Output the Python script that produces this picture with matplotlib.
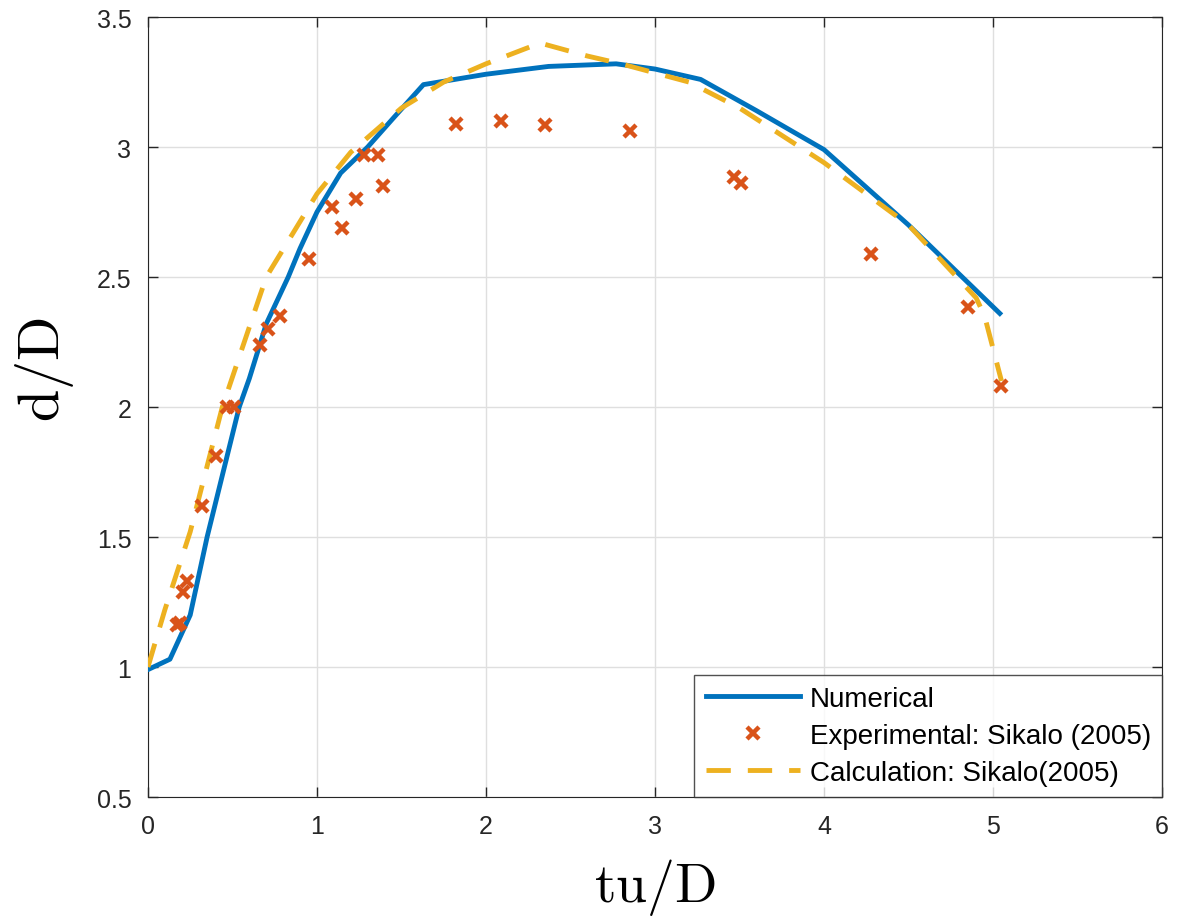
import matplotlib
matplotlib.use("Agg")
import matplotlib.pyplot as plt

plt.rcParams['font.family'] = ['Liberation Sans', 'DejaVu Sans']
plt.rcParams['mathtext.fontset'] = 'cm'

# numerical result
num_x = [0, 0.13, 0.25, 0.35, 0.54, 0.6, 0.7, 0.83, 0.9, 1.0, 1.14, 1.3, 1.45,
         1.63, 2.0, 2.37, 2.77, 3.0, 3.27, 3.6, 4.0, 4.5, 5.04]
num_y = [0.99, 1.03, 1.2, 1.5, 2.0, 2.11, 2.32, 2.5, 2.61, 2.75, 2.9, 3.0, 3.11,
         3.24, 3.28, 3.31, 3.32, 3.3, 3.26, 3.14, 2.99, 2.7, 2.36]

# experimental points, Sikalo (2005)
exp_x = [0.17, 0.19, 0.21, 0.23, 0.32, 0.40, 0.47, 0.51, 0.66, 0.71, 0.78, 0.95,
         1.09, 1.15, 1.23, 1.28, 1.36, 1.39, 1.82, 2.09, 2.35, 2.85, 3.47, 3.51,
         4.28, 4.85, 5.05]
exp_y = [1.16, 1.17, 1.29, 1.33, 1.62, 1.81, 2.0, 2.0, 2.24, 2.30, 2.35, 2.57,
         2.77, 2.69, 2.80, 2.97, 2.97, 2.85, 3.09, 3.10, 3.085, 3.06, 2.885, 2.86,
         2.59, 2.385, 2.08]

# calculation, Sikalo (2005)
calc_x = [0, 0.1, 0.25, 0.44, 0.7, 1.0, 1.2, 1.5, 1.75, 2.0, 2.32, 2.6, 2.8,
          3.2, 3.5, 4.0, 4.5, 4.9, 4.95, 5.05]
calc_y = [1.0, 1.22, 1.52, 2.0, 2.5, 2.82, 2.98, 3.15, 3.25, 3.32, 3.40, 3.35, 3.32,
          3.25, 3.15, 2.94, 2.70, 2.42, 2.35, 2.1]

fig = plt.figure(figsize=(11.77, 9.2), dpi=100)
ax = fig.add_axes([0.1257, 0.1326, 0.8616, 0.8478])

ax.plot(num_x, num_y, color='#0072BD', lw=3.5, label='Numerical', zorder=3)
ax.plot(exp_x, exp_y, linestyle='none', marker='x', color='#D95319', ms=9, mew=3.2,
        label='Experimental: Sikalo (2005)', zorder=4)
ax.plot(calc_x, calc_y, color='#EDB120', lw=3.5, dashes=(5, 3.5),
        label='Calculation: Sikalo(2005)', zorder=3)

ax.set_xlim(0, 6)
ax.set_ylim(0.5, 3.5)
ax.set_xticks(range(0, 7))
ax.set_yticks([0.5, 1, 1.5, 2, 2.5, 3, 3.5])
ax.set_yticklabels(['0.5', '1', '1.5', '2', '2.5', '3', '3.5'])
ax.grid(True, color='#dfdfdf', lw=1)
ax.set_axisbelow(True)
ax.tick_params(direction='in', top=True, right=True, labelsize=18, colors='#262626',
               length=7, width=1, pad=12)
for s in ax.spines.values():
    s.set_color('#262626')

ax.set_xlabel(r'$\mathrm{tu/D}$', fontsize=40)
ax.set_ylabel(r'$\mathrm{d/D}$', fontsize=42)
ax.xaxis.set_label_coords(0.5, -0.076)
ax.yaxis.set_label_coords(-0.071, 0.549)

leg = ax.legend(loc='lower right', fontsize=20, frameon=True, fancybox=False,
                edgecolor='#262626', borderaxespad=0, handlelength=3.4,
                handletextpad=0.35, labelspacing=0.4, borderpad=0.4)
leg.get_frame().set_linewidth(1)

fig.savefig('out.png', dpi=100)
